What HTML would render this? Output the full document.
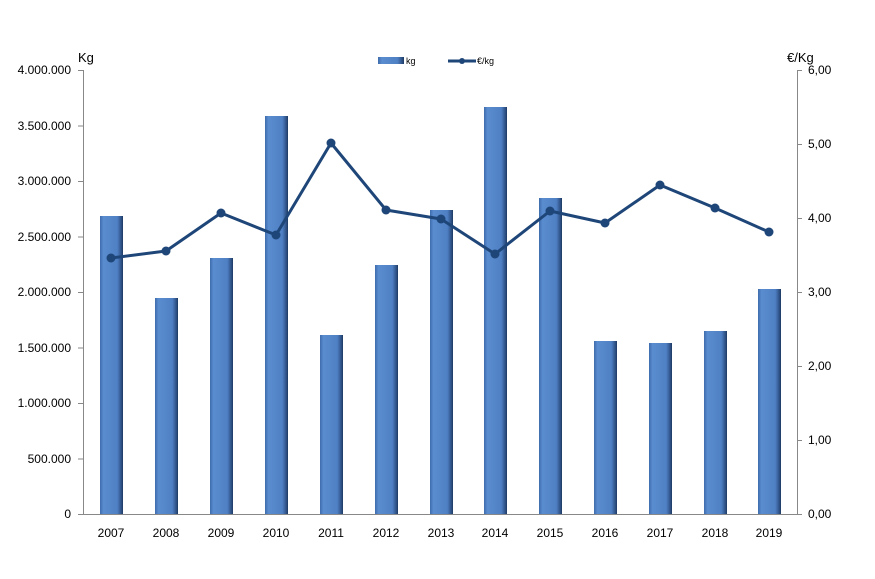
<!DOCTYPE html>
<html><head><meta charset="utf-8"><style>
body{margin:0;background:#fff}
svg{display:block;font-family:"Liberation Sans",sans-serif}
</style></head><body>
<svg width="875" height="579" viewBox="0 0 875 579">
<defs>
<linearGradient id="g" x1="0" x2="1" y1="0" y2="0">
<stop offset="0" stop-color="#3e6cab"/><stop offset="0.15" stop-color="#5a8cd0"/><stop offset="0.75" stop-color="#4f80c4"/><stop offset="0.9" stop-color="#33588f"/><stop offset="1" stop-color="#1e3a63"/>
</linearGradient>
</defs>
<g stroke="#888" stroke-width="1">
<line x1="83.5" y1="70" x2="83.5" y2="514"/>
<line x1="797.5" y1="70" x2="797.5" y2="514"/>
<line x1="83" y1="514.5" x2="797" y2="514.5"/>
<line x1="78" y1="70.5" x2="83" y2="70.5"/><line x1="78" y1="126" x2="83" y2="126"/><line x1="78" y1="181.5" x2="83" y2="181.5"/><line x1="78" y1="237" x2="83" y2="237"/><line x1="78" y1="292.5" x2="83" y2="292.5"/><line x1="78" y1="348" x2="83" y2="348"/><line x1="78" y1="403.5" x2="83" y2="403.5"/><line x1="78" y1="459" x2="83" y2="459"/><line x1="78" y1="514.5" x2="83" y2="514.5"/>
<line x1="797" y1="70.5" x2="802" y2="70.5"/><line x1="797" y1="144.5" x2="802" y2="144.5"/><line x1="797" y1="218.5" x2="802" y2="218.5"/><line x1="797" y1="292.5" x2="802" y2="292.5"/><line x1="797" y1="366.5" x2="802" y2="366.5"/><line x1="797" y1="440.5" x2="802" y2="440.5"/><line x1="797" y1="514.5" x2="802" y2="514.5"/>
</g>
<g font-size="12" fill="#000" text-anchor="end">
<text x="71" y="74">4.000.000</text><text x="71" y="130">3.500.000</text><text x="71" y="185">3.000.000</text><text x="71" y="241">2.500.000</text><text x="71" y="296">2.000.000</text><text x="71" y="352">1.500.000</text><text x="71" y="407">1.000.000</text><text x="71" y="463">500.000</text><text x="71" y="518">0</text>
</g>
<g font-size="12" fill="#000" text-anchor="start">
<text x="808" y="74">6,00</text><text x="808" y="148">5,00</text><text x="808" y="222">4,00</text><text x="808" y="296">3,00</text><text x="808" y="370">2,00</text><text x="808" y="444">1,00</text><text x="808" y="518">0,00</text>
</g>
<text x="78" y="62" font-size="13">Kg</text>
<text x="787" y="62" font-size="13">€/Kg</text>
<g fill="url(#g)">
<rect x="100" y="216" width="23" height="298"/>
<rect x="155" y="298" width="23" height="216"/>
<rect x="210" y="258" width="23" height="256"/>
<rect x="265" y="116" width="23" height="398"/>
<rect x="320" y="335" width="23" height="179"/>
<rect x="375" y="265" width="23" height="249"/>
<rect x="430" y="210" width="23" height="304"/>
<rect x="484" y="107" width="23" height="407"/>
<rect x="539" y="198" width="23" height="316"/>
<rect x="594" y="341" width="23" height="173"/>
<rect x="649" y="343" width="23" height="171"/>
<rect x="704" y="331" width="23" height="183"/>
<rect x="758" y="289" width="23" height="225"/>
</g>
<polyline fill="none" stroke="#1f4678" stroke-width="3" stroke-linejoin="round" points="111,258 166,251 221,213 276,235 331,143 386,210 441,219 495,254 550,211 605,223 660,185 715,208 769,232"/>
<g fill="#1f4678">
<circle cx="111" cy="258" r="4.5"/><circle cx="166" cy="251" r="4.5"/><circle cx="221" cy="213" r="4.5"/><circle cx="276" cy="235" r="4.5"/><circle cx="331" cy="143" r="4.5"/><circle cx="386" cy="210" r="4.5"/><circle cx="441" cy="219" r="4.5"/><circle cx="495" cy="254" r="4.5"/><circle cx="550" cy="211" r="4.5"/><circle cx="605" cy="223" r="4.5"/><circle cx="660" cy="185" r="4.5"/><circle cx="715" cy="208" r="4.5"/><circle cx="769" cy="232" r="4.5"/>
</g>
<g font-size="12" text-anchor="middle">
<text x="111" y="537">2007</text><text x="166" y="537">2008</text><text x="221" y="537">2009</text><text x="276" y="537">2010</text><text x="331" y="537">2011</text><text x="386" y="537">2012</text><text x="441" y="537">2013</text><text x="495" y="537">2014</text><text x="550" y="537">2015</text><text x="605" y="537">2016</text><text x="660" y="537">2017</text><text x="715" y="537">2018</text><text x="769" y="537">2019</text>
</g>
<rect x="378" y="57" width="26" height="7" fill="url(#g)"/>
<text x="406" y="64" font-size="9">kg</text>
<line x1="448" y1="61" x2="476" y2="61" stroke="#1f4678" stroke-width="3"/>
<circle cx="462" cy="61" r="3" fill="#1f4678"/>
<text x="477" y="64" font-size="9">€/kg</text>
</svg>
</body></html>
